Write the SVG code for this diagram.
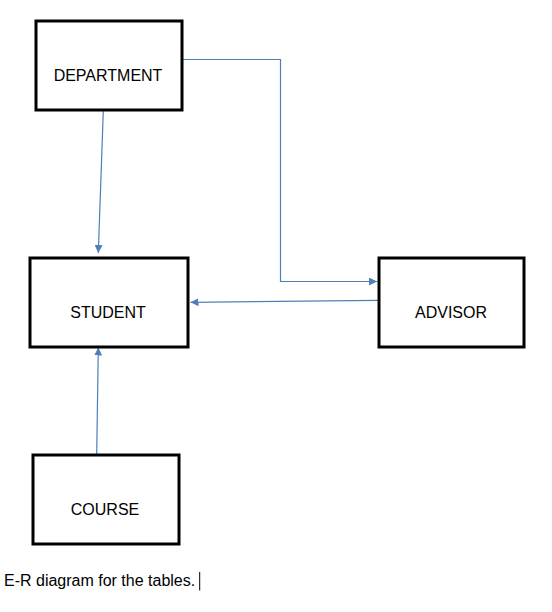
<svg xmlns="http://www.w3.org/2000/svg" width="552" height="612" viewBox="0 0 552 612">
<style>
.box{fill:#fff;stroke:#000;stroke-width:3}
.lbl{font-family:"Liberation Sans",Arial,sans-serif;font-size:16px;fill:#000;text-anchor:middle}
.conn{fill:none;stroke:#4f7fb8;stroke-width:1.2}
</style>
<defs>
<marker id="arr" viewBox="0 0 10 10" refX="10" refY="5" markerWidth="8" markerHeight="8" markerUnits="userSpaceOnUse" orient="auto">
<path d="M0,0 L10,5 L0,10 z" fill="#4f7fb8"/>
</marker>
</defs>
<rect width="552" height="612" fill="#fff"/>
<g id="connectors">
<path class="conn" d="M182,59.5 H280.5 V281.5 H377" marker-end="url(#arr)"/>
<path class="conn" d="M103.3,111 L98.3,253" marker-end="url(#arr)"/>
<path class="conn" d="M378,300.3 L190.5,302.3" marker-end="url(#arr)"/>
<path class="conn" d="M96.7,455 L98.3,347.5" marker-end="url(#arr)"/>
</g>
<g id="department">
<rect class="box" x="36" y="21" width="146" height="89"/>
<text class="lbl" x="108" y="81">DEPARTMENT</text>
</g>
<g id="student">
<rect class="box" x="30" y="258" width="158" height="89"/>
<text class="lbl" x="108" y="318">STUDENT</text>
</g>
<g id="advisor">
<rect class="box" x="379" y="258" width="145" height="89"/>
<text class="lbl" x="451" y="318">ADVISOR</text>
</g>
<g id="course">
<rect class="box" x="33" y="455" width="146" height="89"/>
<text class="lbl" x="105" y="515">COURSE</text>
</g>
<text x="4" y="585.7" font-family="'Liberation Sans',Arial,sans-serif" font-size="16" fill="#000">E-R diagram for the tables.</text>
<line x1="199.7" y1="572" x2="199.7" y2="590.5" stroke="#000" stroke-width="1"/>
</svg>
